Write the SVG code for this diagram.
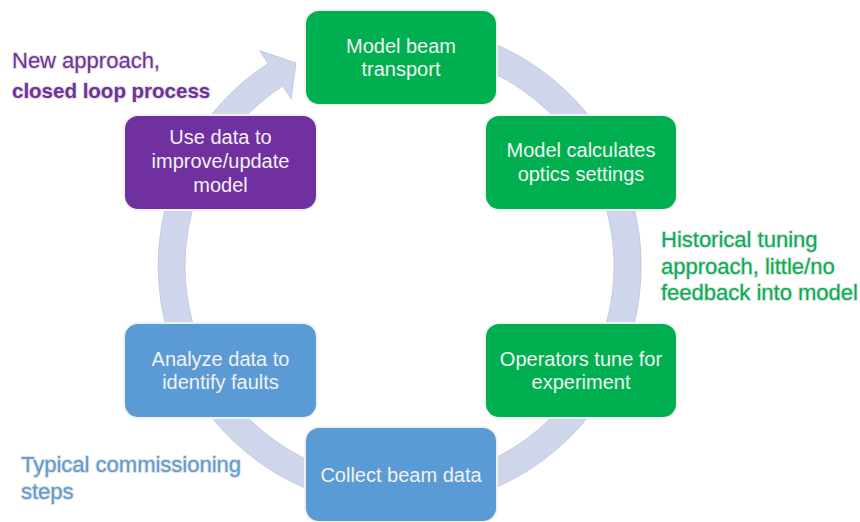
<svg xmlns="http://www.w3.org/2000/svg" width="860" height="522" viewBox="0 0 860 522">
<style>
.box{stroke:#f2f2f2;stroke-width:2}
.green{fill:#00B050}
.purple{fill:#7030A0}
.blue{fill:#5B9BD5}
.lbl{font-family:"Liberation Sans",Arial,sans-serif;font-size:20px;fill:#F2F2F2;text-anchor:middle}
.note{font-family:"Liberation Sans",Arial,sans-serif;font-size:22px;stroke:#c8c8c8;stroke-opacity:0.55;stroke-width:2;paint-order:stroke;stroke-linejoin:round}
.ring{fill:#CFD5EA;stroke:#bfc4da;stroke-width:0.8}
</style>
<rect width="860" height="522" fill="#ffffff"/>
<g id="connectors">
<path class="ring" d="M324.9,36.3 A241.5,241.5 0 1 1 268.0,63.5 L259.5,50.5 L296.0,62.9 L291.1,99.1 L282.7,86.1 A214.5,214.5 0 1 0 333.2,62.0 Z"/>
</g>
<g id="model-beam-transport">
<rect class="box green" x="305" y="10" width="192" height="95" rx="14"/>
<text class="lbl" x="401" y="52.5">Model beam</text>
<text class="lbl" x="401" y="76">transport</text>
</g>
<g id="model-calculates">
<rect class="box green" x="485" y="115" width="192" height="95" rx="14"/>
<text class="lbl" x="581" y="157">Model calculates</text>
<text class="lbl" x="581" y="180.5">optics settings</text>
</g>
<g id="operators-tune">
<rect class="box green" x="485" y="323" width="192" height="95" rx="14"/>
<text class="lbl" x="581" y="365.5">Operators tune for</text>
<text class="lbl" x="581" y="389">experiment</text>
</g>
<g id="collect-beam-data">
<rect class="box blue" x="305" y="427" width="192" height="95" rx="14"/>
<text class="lbl" x="401" y="481.5">Collect beam data</text>
</g>
<g id="analyze-data">
<rect class="box blue" x="124" y="323" width="193" height="95" rx="14"/>
<text class="lbl" x="220.5" y="365.5">Analyze data to</text>
<text class="lbl" x="220.5" y="389">identify faults</text>
</g>
<g id="use-data">
<rect class="box purple" x="124" y="115" width="193" height="95" rx="14"/>
<text class="lbl" x="220.5" y="144">Use data to</text>
<text class="lbl" x="220.5" y="168">improve/update</text>
<text class="lbl" x="220.5" y="192">model</text>
</g>
<g id="note-new-approach" fill="#7030A0">
<text class="note" x="12" y="68">New approach,</text>
<text class="note" x="12" y="98" font-weight="bold" style="font-size:20.5px">closed loop process</text>
</g>
<g id="note-historical" fill="#00B050">
<text class="note" x="661" y="247">Historical tuning</text>
<text class="note" x="661" y="274">approach, little/no</text>
<text class="note" x="661" y="300">feedback into model</text>
</g>
<g id="note-typical" fill="#5B9BD5">
<text class="note" x="21" y="472">Typical commissioning</text>
<text class="note" x="21" y="499">steps</text>
</g>
</svg>
